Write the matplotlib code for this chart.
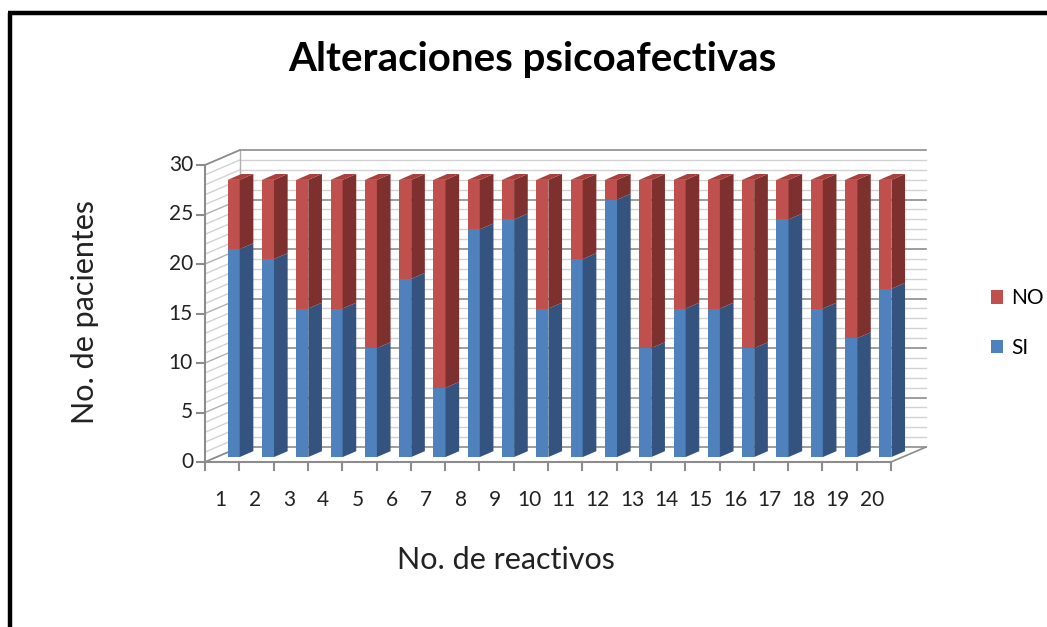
import matplotlib
matplotlib.use('Agg')
import matplotlib.pyplot as plt
from matplotlib.patches import Polygon, Patch
import numpy as np

plt.rcParams['font.family'] = ['Lato', 'DejaVu Sans']

# datos por reactivo
reactivos = [str(i) for i in range(1, 21)]
si = [21, 20, 15, 15, 11, 18, 7, 23, 24, 15, 20, 26, 11, 15, 15, 11, 24, 15, 12, 17]
no = [7, 8, 13, 13, 17, 10, 21, 5, 4, 13, 8, 2, 17, 13, 13, 17, 4, 13, 16, 11]
y_ticks = [0, 5, 10, 15, 20, 25, 30]

W, H = 1047, 627
fig = plt.figure(figsize=(W / 100, H / 100), dpi=100)
ax = fig.add_axes([0, 0, 1, 1])

# geometria del plano frontal (px)
x0_px, y0_px = 205, 462
cat_px, val_px = 34.3, 9.9
ax.set_xlim(-x0_px / cat_px, (W - x0_px) / cat_px)
ax.set_ylim(-(H - y0_px) / val_px, y0_px / val_px)
ax.axis('off')

Dx, Dy = 35 / cat_px, 15 / val_px   # vector de profundidad
f0, f1 = 0.33, 0.72                 # profundidad de las barras
bw = 0.35
n = len(reactivos)
ymax = 30

grid_minor = '#d2d2d2'
grid_major = '#8c8c8c'

# paredes: lineas de rejilla
for v in range(0, ymax + 1):
    c = grid_major if v % 5 == 0 else grid_minor
    lw = 1.2 if v % 5 == 0 else 1.0
    ax.plot([Dx, n + Dx], [v + Dy, v + Dy], color=c, lw=lw, zorder=1)
    ax.plot([0, Dx], [v, v + Dy], color=grid_minor if v % 5 else '#b0b0b0', lw=1.0, zorder=1)

ax.plot([Dx, Dx], [Dy, ymax + Dy], color='#b0b0b0', lw=1.0, zorder=1)
ax.plot([0, Dx], [ymax, ymax + Dy], color=grid_major, lw=1.2, zorder=1)
ax.plot([0, Dx], [0, Dy], color=grid_major, lw=1.2, zorder=1)

# piso
ax.plot([0, n], [0, 0], color=grid_major, lw=1.5, zorder=1)
ax.plot([n, n + Dx], [0, Dy], color=grid_major, lw=1.2, zorder=1)

# eje vertical
ax.plot([0, 0], [0, ymax], color=grid_major, lw=1.5, zorder=1)
tick_x = 8 / cat_px
tick_y = 8 / val_px
for v in y_ticks:
    ax.plot([-tick_x, 0], [v, v], color=grid_major, lw=1.5, zorder=1)
    ax.text(-12 / cat_px, v, str(v), ha='right', va='center', fontsize=15, color='#222222')
for i in range(n + 1):
    ax.plot([i, i], [0, -tick_y], color=grid_major, lw=1.5, zorder=1)
for i, lab in enumerate(reactivos):
    ax.text(i + 0.45, -38 / val_px, lab, ha='center', va='center', fontsize=15, color='#222222')

blue_f, blue_s = '#4f81bd', '#34547f'
red_f, red_s, red_t = '#c0504d', '#7d302e', '#a8403d'


def bloque(xl, y_a, y_b, cf, cs, ct=None, z=3):
    xr = xl + bw
    ox, oy = f0 * Dx, f0 * Dy
    dx, dy = (f1 - f0) * Dx, (f1 - f0) * Dy
    front = [(xl + ox, y_a + oy), (xr + ox, y_a + oy), (xr + ox, y_b + oy), (xl + ox, y_b + oy)]
    side = [(xr + ox, y_a + oy), (xr + ox + dx, y_a + oy + dy),
            (xr + ox + dx, y_b + oy + dy), (xr + ox, y_b + oy)]
    ax.add_patch(Polygon(front, closed=True, fc=cf, ec='none', zorder=z))
    ax.add_patch(Polygon(side, closed=True, fc=cs, ec='none', zorder=z))
    if ct is not None:
        top = [(xl + ox, y_b + oy), (xr + ox, y_b + oy),
               (xr + ox + dx, y_b + oy + dy), (xl + ox + dx, y_b + oy + dy)]
        ax.add_patch(Polygon(top, closed=True, fc=ct, ec='none', zorder=z))


for i in range(n):
    xl = i + 0.5 - bw / 2
    bloque(xl, 0, si[i], blue_f, blue_s, z=3)
    bloque(xl, si[i], si[i] + no[i], red_f, red_s, red_t, z=4)

# textos
fig.text(532 / W, 1 - 60 / H, 'Alteraciones psicoafectivas', ha='center', va='center',
         fontsize=29, fontweight='bold', color='#000000')
fig.text(85 / W, 1 - 312 / H, 'No. de pacientes', ha='center', va='center',
         rotation=90, fontsize=22, color='#222222')
fig.text(506 / W, 1 - 560 / H, 'No. de reactivos', ha='center', va='center',
         fontsize=22, color='#222222')

handles = [Patch(fc=red_f, ec='none', label='NO'), Patch(fc=blue_f, ec='none', label='SI')]
fig.legend(handles=handles, loc='center left', bbox_to_anchor=(972 / W, 1 - 323 / H),
           frameon=False, fontsize=15, handlelength=0.6, handleheight=0.6,
           handletextpad=0.4, labelspacing=1.4)

# marco
fig.add_artist(plt.Line2D([9.5 / W, 9.5 / W], [0, 1 - 13 / H], color='black', lw=3.2,
                          transform=fig.transFigure, solid_capstyle='butt'))
fig.add_artist(plt.Line2D([8 / W, 1], [1 - 13 / H, 1 - 13 / H], color='black', lw=3.2,
                          transform=fig.transFigure, solid_capstyle='butt'))

plt.savefig('out.png', dpi=100)
plt.close()
